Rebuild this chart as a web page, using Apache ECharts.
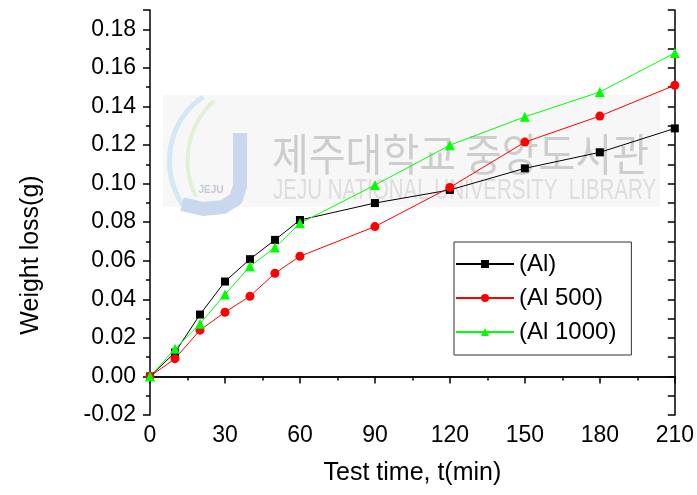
<!DOCTYPE html>
<html>
<head>
<meta charset="utf-8">
<script src="https://cdn.jsdelivr.net/npm/echarts@6/dist/echarts.min.js"></script>
<style>
  html, body { margin: 0; padding: 0; background: #fff; }
  #chart { width: 697px; height: 495px; }
</style>
</head>
<body>
<div id="chart"></div>
<script>
// Test time (min)
const testTime = [0, 10, 20, 30, 40, 50, 60, 90, 120, 150, 180, 210];
// Weight loss (g) per specimen
const lossAl     = [0, 0.0124, 0.0321, 0.0492, 0.0608, 0.0708, 0.0811, 0.0899, 0.0967, 0.1079, 0.1162, 0.1286];
const lossAl500  = [0, 0.0092, 0.0240, 0.0333, 0.0416, 0.0535, 0.0623, 0.0777, 0.0980, 0.1215, 0.1350, 0.1510];
const lossAl1000 = [0, 0.0143, 0.0273, 0.0425, 0.0571, 0.0668, 0.0794, 0.0992, 0.1199, 0.1346, 0.1475, 0.1677];
const seriesNames = ['(Al)', '(Al 500)', '(Al 1000)'];
const xTitle = 'Test time, t(min)';
const yTitle = 'Weight loss(g)';

const FONT = '"Liberation Sans", Arial, sans-serif';
const pairs = (ys) => testTime.map((t, i) => [t, ys[i]]);

const X_MIN = 0, X_MAX = 210, Y_MIN = -0.02, Y_MAX = 0.19;
const axisLine = { show: true, lineStyle: { color: '#000', width: 1.5 } };

const chart = echarts.init(document.getElementById('chart'), null, { renderer: 'canvas' });

chart.setOption({
  animation: false,
  backgroundColor: '#fff',
  grid: { left: 150, right: 22, top: 10, bottom: 80, containLabel: false },
  legend: {
    orient: 'vertical',
    left: 454, top: 242,
    data: seriesNames,
    borderColor: '#333', borderWidth: 1,
    padding: [10, 15, 11, 1],
    itemWidth: 58, itemHeight: 10, itemGap: 10,
    textStyle: { fontFamily: FONT, fontSize: 24, color: '#000' }
  },
  xAxis: [
    {
      type: 'value', position: 'bottom', min: X_MIN, max: X_MAX, interval: 30,
      axisLine: axisLine,
      axisTick: { show: true, inside: false, length: 7, lineStyle: { color: '#000', width: 1.5 } },
      minorTick: { show: true, splitNumber: 2, length: 4, lineStyle: { color: '#000', width: 1.5 } },
      splitLine: { show: false },
      axisLabel: { fontFamily: FONT, fontSize: 23, color: '#000', margin: 9 },
      name: xTitle, nameLocation: 'middle', nameGap: 46,
      nameTextStyle: { fontFamily: FONT, fontSize: 25, color: '#000' }
    },
    {
      type: 'value', position: 'top', min: X_MIN, max: X_MAX, interval: 30,
      axisLine: axisLine,
      axisTick: { show: true, inside: true, length: 7, lineStyle: { color: '#000', width: 1.5 } },
      minorTick: { show: true, splitNumber: 2, length: 4, lineStyle: { color: '#000', width: 1.5 } },
      splitLine: { show: false },
      axisLabel: { show: false }
    }
  ],
  yAxis: [
    {
      type: 'value', position: 'left', min: Y_MIN, max: Y_MAX, interval: 0.02,
      axisLine: axisLine,
      axisTick: { show: true, inside: false, length: 7, lineStyle: { color: '#000', width: 1.5 } },
      splitLine: { show: false },
      axisLabel: {
        fontFamily: FONT, fontSize: 23, color: '#000', margin: 14,
        formatter: (v) => (v > 0.185 ? '' : v.toFixed(2))
      }
    },
    {
      type: 'value', position: 'left', min: Y_MIN, max: Y_MAX, interval: 0.01,
      axisLine: { show: false },
      axisTick: { show: true, inside: false, length: 4, lineStyle: { color: '#000', width: 1.5 } },
      splitLine: { show: false },
      axisLabel: { show: false }
    },
    {
      type: 'value', position: 'right', min: Y_MIN, max: Y_MAX, interval: 0.01,
      axisLine: axisLine,
      axisTick: { show: true, inside: true, length: 7, lineStyle: { color: '#000', width: 1.5 } },
      splitLine: { show: false },
      axisLabel: { show: false }
    }
  ],
  graphic: [
    // library watermark
    { type: 'rect', z: -10, silent: true, shape: { x: 163, y: 95, width: 497, height: 112 },
      style: { fill: 'rgba(0,0,0,0.03)' } },
    { type: 'bezierCurve', z: -9, silent: true,
      shape: { x1: 203, y1: 97, cpx1: 166, cpy1: 122, cpx2: 160, cpy2: 172, x2: 183, y2: 205 },
      style: { fill: 'none', stroke: '#d3e7f4', lineWidth: 5 } },
    { type: 'bezierCurve', z: -9, silent: true,
      shape: { x1: 214, y1: 101, cpx1: 186, cpy1: 126, cpx2: 181, cpy2: 166, x2: 196, y2: 197 },
      style: { fill: 'none', stroke: '#e1f0d6', lineWidth: 4 } },
    { type: 'polyline', z: -9, silent: true,
      shape: { points: [[240, 133], [240, 186], [236, 199], [223, 207], [203, 209], [182, 204]] },
      style: { fill: 'none', stroke: '#c9d8ee', lineWidth: 14, lineJoin: 'round' } },
    { type: 'text', z: -8, silent: true, x: 211, y: 190,
      style: { text: 'JEJU', font: 'bold 10px ' + FONT, fill: '#c4c9d4', align: 'center', verticalAlign: 'middle' } },
    { type: 'text', z: -9, silent: true, x: 272, y: 132, scaleY: 1.1,
      style: { text: '제주대학교 중앙도서관', font: '40px "Noto Sans CJK KR"', fill: '#cdcdcd', verticalAlign: 'top' } },
    { type: 'text', z: -9, silent: true, x: 273, y: 176, scaleY: 1.4,
      style: { text: 'JEJU NATIONAL UNIVERSITY  LIBRARY', font: '20.5px ' + FONT, fill: '#dddddd', verticalAlign: 'top' } },
    // y-axis title
    { type: 'text', x: 31, y: 255, rotation: Math.PI / 2,
      style: { text: yTitle, font: '25px ' + FONT, fill: '#000', align: 'center', verticalAlign: 'middle' } }
  ],
  series: [
    {
      name: seriesNames[0], type: 'line', data: pairs(lossAl),
      xAxisIndex: 0, yAxisIndex: 0,
      symbol: 'rect', symbolSize: 8,
      lineStyle: { color: '#000', width: 1 }, itemStyle: { color: '#000' }
    },
    {
      name: seriesNames[1], type: 'line', data: pairs(lossAl500),
      xAxisIndex: 0, yAxisIndex: 0,
      symbol: 'circle', symbolSize: 9,
      lineStyle: { color: '#ff0000', width: 1 }, itemStyle: { color: '#ff0000' }
    },
    {
      name: seriesNames[2], type: 'line', data: pairs(lossAl1000),
      xAxisIndex: 0, yAxisIndex: 0,
      symbol: 'triangle', symbolSize: 10,
      lineStyle: { color: '#00ff00', width: 1 }, itemStyle: { color: '#00ff00' }
    }
  ]
});
</script>
</body>
</html>
